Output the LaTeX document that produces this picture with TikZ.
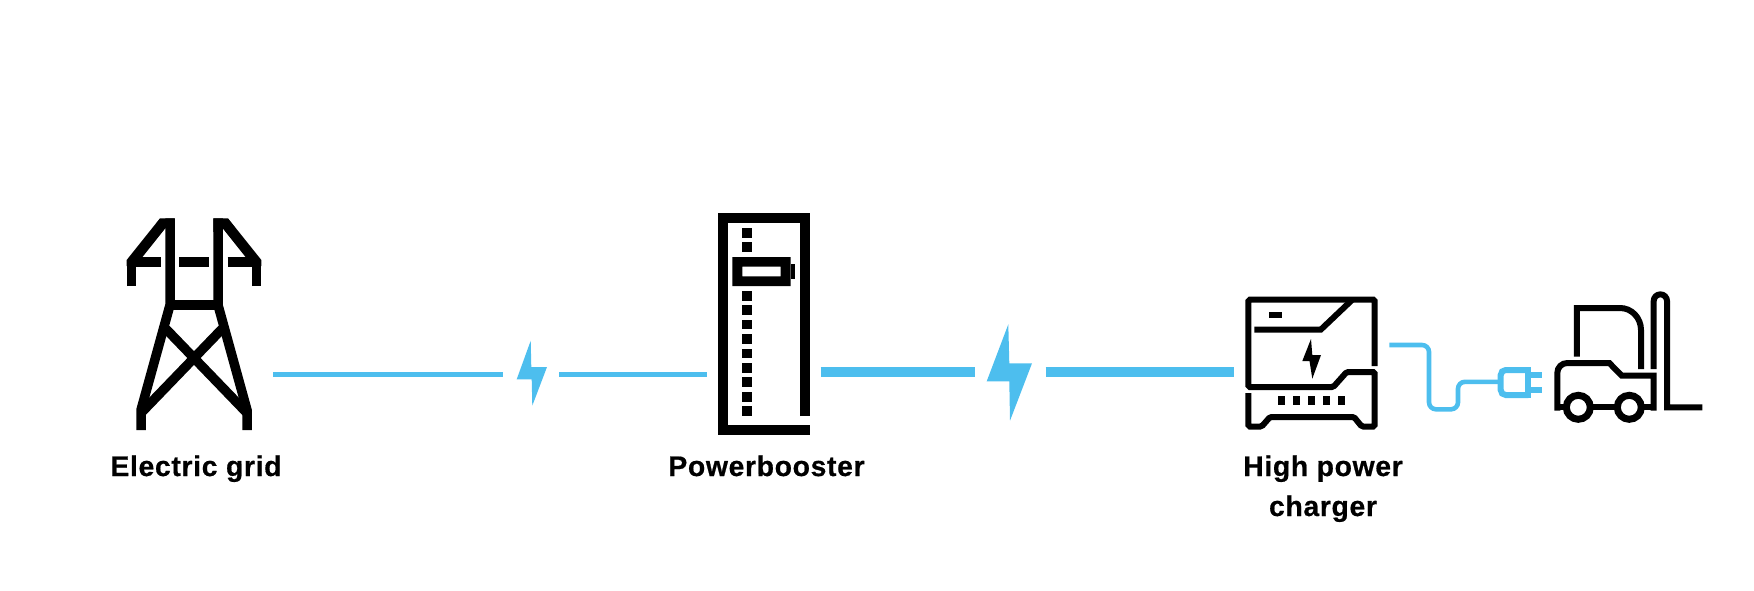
\documentclass[tikz,border=0pt]{standalone}
\usepackage{fontspec}
\setmainfont[BoldFeatures={LetterSpace=2.4,FakeBold=0.6}]{Liberation Sans}
\definecolor{elec}{RGB}{77,190,238}
\tikzset{
  icon/.style={draw=black,line width=#1,miter limit=10,line join=miter,fill=none},
  icon/.default=9.5pt,
  label/.style={font=\bfseries\fontsize{28.3}{28.3}\selectfont,text=black,anchor=base,inner sep=0pt},
  thinlink/.style={draw=elec,line width=5pt},
  thicklink/.style={draw=elec,line width=10pt},
  bolt/.style={fill=elec,draw=none}
}
\begin{document}
\begin{tikzpicture}[x=1pt,y=-1pt]
\useasboundingbox (0,0) rectangle (1754,591);
% --- tower
\draw[icon] (131.4,286) -- (131.4,262);
\draw[icon] (256.6,286) -- (256.6,262);
\fill[black] (160,218.3) -- (174.7,218.3) -- (174.7,232) -- (165.3,228.3) -- (142.3,257.2) -- (142.3,266) -- (126.7,266) -- (126.7,260) -- cycle;
\fill[black] (228,218.3) -- (213.3,218.3) -- (213.3,232) -- (222.7,228.3) -- (245.7,257.2) -- (245.7,266) -- (261.3,266) -- (261.3,260) -- cycle;
\draw[icon] (170,218.3) -- (170,305) -- (141,410) -- (141,430);
\draw[icon] (218,218.3) -- (218,305) -- (247,410) -- (247,430);
\draw[icon] (136,262) -- (160.7,262);
\draw[icon] (179.3,262) -- (208.7,262);
\draw[icon] (227.7,262) -- (252,262);
\draw[icon] (170,305) -- (218,305);
\draw[icon] (141,413) -- (222,329);
\draw[icon] (247,413) -- (166,329);
\node[label] (grid) at (196,476) {Electric grid};
% --- powerbooster
\draw[icon=10pt] (804.7,416) -- (804.7,218.3) -- (723,218.3) -- (723,430.3) -- (809.5,430.3);
\foreach \yy in {228,242.4,290.7,305.2,319.6,334.1,348.5,363,377.4,391.9,406.3}
  \fill[black] (742,\yy) rectangle (752,\yy+9.8);
\fill[black,even odd rule] (732.3,257) rectangle (790.7,286) (742.3,266.7) rectangle (780.7,276.3);
\fill[black] (790.7,264) rectangle (795.3,278.7);
\node[label] (booster) at (766.5,476) {Powerbooster};
% --- links
\coordinate (a1) at (273,374.8); \coordinate (a2) at (503,374.8);
\coordinate (b1) at (559,374.8); \coordinate (b2) at (707,374.8);
\coordinate (c1) at (820.7,372.3); \coordinate (c2) at (975,372.3);
\coordinate (d1) at (1045.7,372.3); \coordinate (d2) at (1234,372.3);
\draw[thinlink] (a1) -- (a2);
\draw[thinlink] (b1) -- (b2);
\draw[thicklink] (c1) -- (c2);
\draw[thicklink] (d1) -- (d2);
\fill[bolt] (530.7,340.7) -- (516.7,379.3) -- (531.7,379.3) -- (532.3,405.7) -- (547,367) -- (531.3,367) -- cycle;
\fill[bolt] (1008.3,324.3) -- (986.7,381.3) -- (1009.3,381.3) -- (1010,420.7) -- (1032,363.3) -- (1009.3,363.3) -- cycle;
% --- charger
\draw[icon=6pt,rounded corners=1.5pt] (1374.7,366) -- (1374.7,299.7) -- (1248.3,299.7) -- (1248.3,387) -- (1333.3,387) -- (1346.7,372) -- (1374.7,372) -- (1374.7,426.5) -- (1361.7,426.5) -- (1354,417) -- (1270,417) -- (1261.7,426.5) -- (1248.3,426.5) -- (1248.3,393);
\draw[icon=6pt] (1254.3,329.7) -- (1320.7,329.7) -- (1352,300);
\fill[black] (1269.3,311.7) rectangle (1282,317.7);
\foreach \xx in {1278.3,1293.3,1308.3,1323.3,1338.3}
  \fill[black] (\xx,396) rectangle (\xx+6.7,405.3);
\fill[black] (1311,339) -- (1302.3,361) -- (1309.5,361) -- (1312.3,378.7) -- (1321,355) -- (1312.3,355) -- cycle;
\node[label] (charger1) at (1323,476) {High power};
\node[label] (charger2) at (1323,516) {charger};
% --- cable and plug
\draw[draw=elec,line width=4.6pt,rounded corners=7pt] (1389.3,345) -- (1429,345) -- (1429,409.3) -- (1458,409.3) -- (1458,381.8) -- (1500,381.8);
\draw[draw=elec,line width=6pt,rounded corners=5pt] (1528.3,370) -- (1500.7,370) -- (1500.7,395) -- (1528.3,395);
\draw[draw=elec,line width=6pt] (1528.3,367) -- (1528.3,398);
\fill[elec] (1531,372.3) rectangle (1542,378.3);
\fill[elec] (1531,386.7) rectangle (1542,392.7);
% --- forklift
\draw[icon=6pt] (1576.8,356.7) -- (1576.8,308) -- (1620,308) to[out=0,in=90] (1641,330) -- (1641,369);
\draw[icon=6pt] (1653.7,369) -- (1653.7,301) arc[start angle=180,end angle=360,radius=6.65] -- (1667,407.3) -- (1702.3,407.3);
\draw[icon=6pt] (1557.3,410.7) -- (1557.3,373) to[out=90,in=180] (1567.3,363) -- (1609.3,363) -- (1621.7,375.7) -- (1653.7,375.7) -- (1653.7,410.7);
\draw[icon=6pt] (1557.3,407.3) -- (1566,407.3);
\draw[icon=6pt] (1592,407.3) -- (1616,407.3);
\draw[icon=6pt] (1642,407.3) -- (1653.7,407.3);
\draw[draw=black,line width=7pt,fill=white] (1578.3,407.3) circle[radius=12];
\draw[draw=black,line width=7pt,fill=white] (1629.3,407.3) circle[radius=12];
\end{tikzpicture}
\end{document}
